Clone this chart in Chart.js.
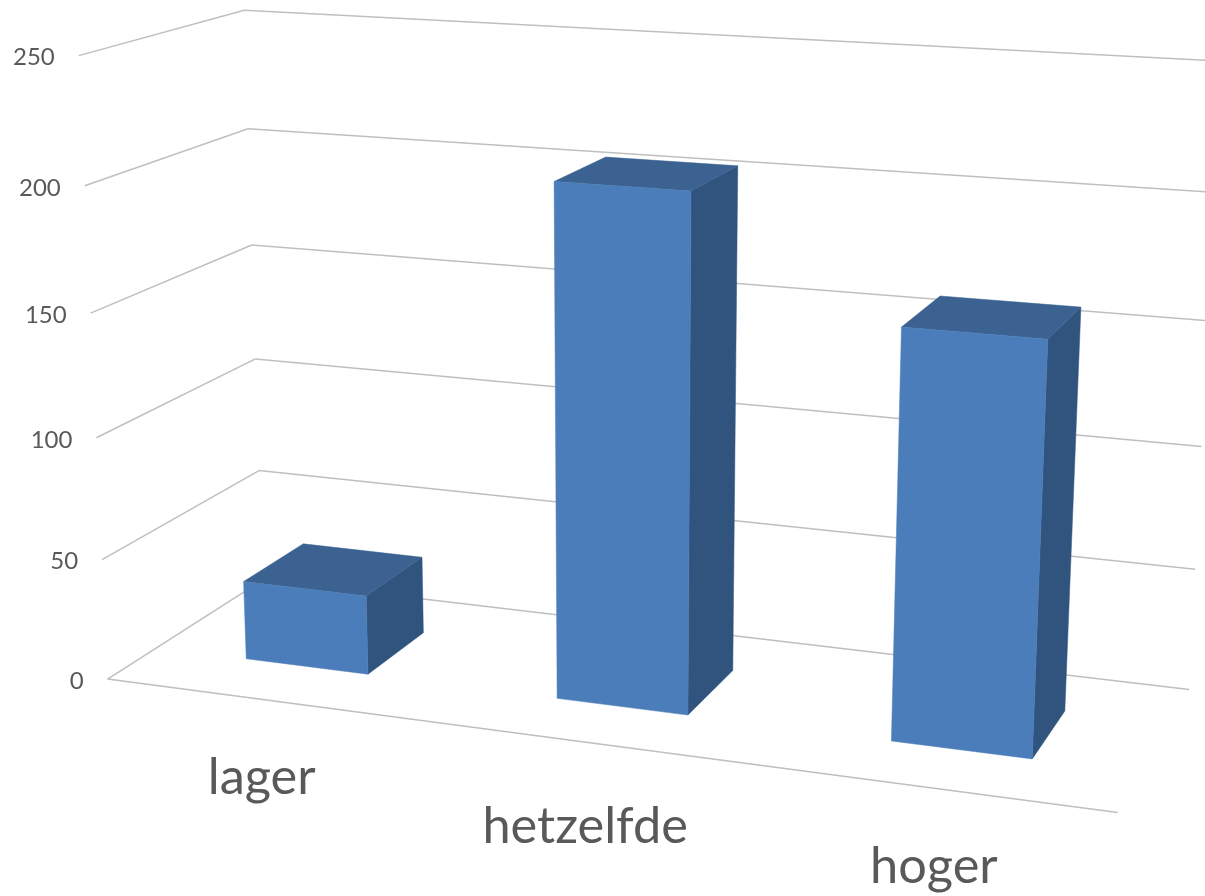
<!DOCTYPE html>
<html>
<head>
<meta charset="utf-8">
<title>lager hetzelfde hoger</title>
<style>
    html, body { margin: 0; padding: 0; background: #ffffff; }
    canvas { display: block; }
</style>
<script src="https://cdn.jsdelivr.net/npm/chart.js@4/dist/chart.umd.min.js"></script>
</head>
<body>
<canvas id="barChart" width="1205" height="896"></canvas>
<script>
const categories = ['lager', 'hetzelfde', 'hoger'];
const values = [33, 206, 161];
const tickStep = 50;
const axisMax = 250;

// camera calibration: [across, up, depth] of the chart box -> picture position
const boxFrame = [
    [0, 0, 0, 108, 679],
    [0, 1, 0, 78, 56],
    [0, 0, 1, 262, 580],
    [0, 1, 1, 245, 10],
    [1, 0, 1, 1189, 690],
    [1, 1, 1, 1221, 61],
    [1, 0, 0, 1118, 812],
];
const barDepth = [0.3, 0.7];
const labelDrop = [95, 101, 95];

const solveCamera = (points) => {
    const n = 11;
    const A = Array.from({ length: n }, () => new Array(n + 1).fill(0));
    const addRow = (row, rhs) => {
        for (let i = 0; i < n; i++) {
            for (let j = 0; j < n; j++) A[i][j] += row[i] * row[j];
            A[i][n] += row[i] * rhs;
        }
    };
    points.forEach(([u, v, d, x, y]) => {
        addRow([u, v, d, 1, 0, 0, 0, 0, -x * u, -x * v, -x * d], x);
        addRow([0, 0, 0, 0, u, v, d, 1, -y * u, -y * v, -y * d], y);
    });
    for (let c = 0; c < n; c++) {
        let best = c;
        for (let r = c + 1; r < n; r++) if (Math.abs(A[r][c]) > Math.abs(A[best][c])) best = r;
        [A[c], A[best]] = [A[best], A[c]];
        for (let r = 0; r < n; r++) {
            if (r === c) continue;
            const f = A[r][c] / A[c][c];
            for (let k = c; k <= n; k++) A[r][k] -= f * A[c][k];
        }
    }
    return A.map((row, i) => row[n] / row[i]);
};

const cam = solveCamera(boxFrame);
const project = (u, v, d) => {
    const w = cam[8] * u + cam[9] * v + cam[10] * d + 1;
    return [
        (cam[0] * u + cam[1] * v + cam[2] * d + cam[3]) / w,
        (cam[4] * u + cam[5] * v + cam[6] * d + cam[7]) / w,
    ];
};

const strokeLine = (ctx, a, b) => {
    ctx.beginPath();
    ctx.moveTo(a[0], a[1]);
    ctx.lineTo(b[0], b[1]);
    ctx.stroke();
};

const fillFace = (ctx, pts, color) => {
    ctx.fillStyle = color;
    ctx.strokeStyle = color;
    ctx.lineWidth = 0.5;
    ctx.beginPath();
    pts.forEach((p, i) => (i ? ctx.lineTo(p[0], p[1]) : ctx.moveTo(p[0], p[1])));
    ctx.closePath();
    ctx.fill();
    ctx.stroke();
};

// walls, floor edge and tick labels, all taken from the chart's y scale
const box3dWalls = {
    id: 'box3dWalls',
    beforeDatasetsDraw(chart) {
        const { ctx, scales: { y } } = chart;
        const toV = (val) => (y.bottom - y.getPixelForValue(val)) / (y.bottom - y.top);
        ctx.save();
        ctx.strokeStyle = '#bfbfbf';
        ctx.lineWidth = 1.5;
        ctx.font = '24px Lato';
        ctx.fillStyle = '#595959';
        ctx.textAlign = 'right';
        ctx.textBaseline = 'middle';
        y.ticks.forEach((tick) => {
            const v = toV(tick.value);
            const corner = project(0, v, 1);
            const start = project(0, v, 0);
            strokeLine(ctx, start, corner);
            strokeLine(ctx, corner, project(1, v, 1));
            ctx.fillText(tick.label, start[0] - 24, start[1] + 2);
        });
        strokeLine(ctx, project(0, 0, 0), project(1, 0, 0));
        ctx.restore();
    },
};

// the bars keep their size from the x scale, they only get drawn as boxes
const box3dBars = {
    id: 'box3dBars',
    afterDatasetsDraw(chart) {
        const { ctx, scales: { x } } = chart;
        const meta = chart.getDatasetMeta(0);
        const toU = (px) => (px - x.left) / (x.right - x.left);
        const [d0, d1] = barDepth;
        ctx.save();
        meta.data.forEach((bar, i) => {
            const u0 = toU(bar.x - bar.width / 2);
            const u1 = toU(bar.x + bar.width / 2);
            const v = values[i] / axisMax;
            fillFace(ctx, [project(u1, 0, d0), project(u1, 0, d1), project(u1, v, d1), project(u1, v, d0)], '#31547f');
            fillFace(ctx, [project(u0, v, d0), project(u1, v, d0), project(u1, v, d1), project(u0, v, d1)], '#3b6291');
            fillFace(ctx, [project(u0, 0, d0), project(u1, 0, d0), project(u1, v, d0), project(u0, v, d0)], '#4a7db9');
        });
        ctx.font = '50.5px Lato';
        ctx.fillStyle = '#595959';
        ctx.textAlign = 'center';
        ctx.textBaseline = 'alphabetic';
        x.ticks.forEach((tick, i) => {
            const anchor = project(toU(x.getPixelForTick(i)), 0, 0);
            ctx.fillText(categories[i], anchor[0] + 1, anchor[1] + labelDrop[i]);
        });
        ctx.restore();
    },
};

new Chart(document.getElementById('barChart'), {
    type: 'bar',
    data: {
        labels: categories,
        datasets: [{
            data: values,
            backgroundColor: 'rgba(0, 0, 0, 0)',
            barPercentage: 0.4,
            categoryPercentage: 1,
        }],
    },
    options: {
        responsive: false,
        animation: false,
        plugins: { legend: { display: false }, tooltip: { enabled: false } },
        scales: {
            x: { display: false },
            y: { display: false, min: 0, max: axisMax, ticks: { stepSize: tickStep } },
        },
    },
    plugins: [box3dWalls, box3dBars],
});
</script>
</body>
</html>
